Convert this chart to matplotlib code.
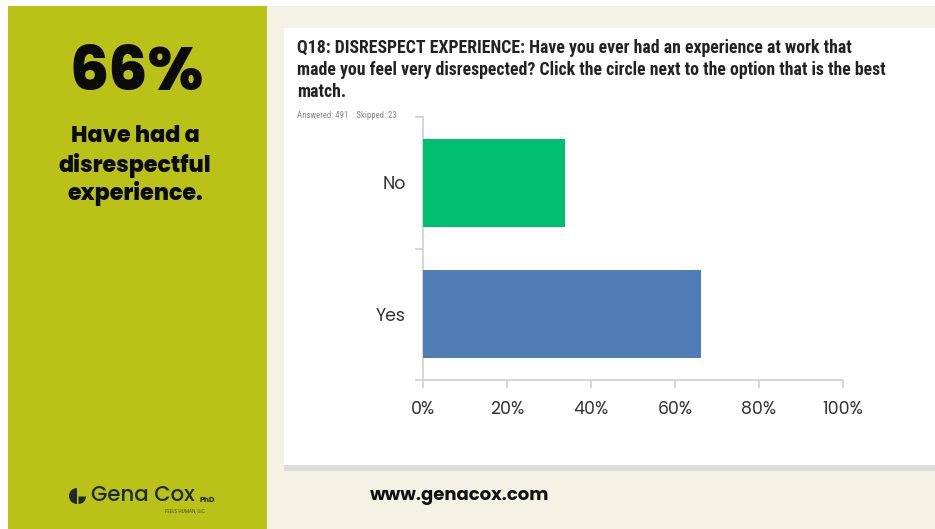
import matplotlib
matplotlib.use("Agg")
import matplotlib.pyplot as plt
from matplotlib.patches import Rectangle, Wedge
from matplotlib import font_manager

W, H = 935, 529
DPI = 100

categories = ["Yes", "No"]
values = [66.2, 33.8]
bar_colors = ["#507CB6", "#00BF6F"]
xticks = [0, 20, 40, 60, 80, 100]
xtick_labels = ["0%", "20%", "40%", "60%", "80%", "100%"]

title_lines = [
    "Q18: DISRESPECT EXPERIENCE: Have you ever had an experience at work that",
    "made you feel very disrespected? Click the circle next to the option that is the best",
    "match.",
]
stat_big = "66%"
stat_lines = ["Have had a", "disrespectful", "experience."]

avail = {f.name for f in font_manager.fontManager.ttflist}
narrow = "Liberation Sans"
for cand in ["Liberation Sans Narrow", "Roboto Condensed", "Arial Narrow"]:
    if cand in avail:
        narrow = cand
        break
round_font = "Poppins" if "Poppins" in avail else ("Lato" if "Lato" in avail else "DejaVu Sans")

fig = plt.figure(figsize=(W / DPI, H / DPI), dpi=DPI)
fig.patch.set_facecolor("white")
renderer = fig.canvas.get_renderer()

def px(x, y):
    return x / W, 1 - y / H

def rect(x0, y0, x1, y1, color, z=0):
    fig.patches.append(Rectangle((x0 / W, 1 - y1 / H), (x1 - x0) / W, (y1 - y0) / H,
                                 transform=fig.transFigure, facecolor=color,
                                 edgecolor="none", zorder=z))

def fit(texts, target_px):
    w = texts[0].get_window_extent(renderer).width
    f = texts[0].get_fontsize() * target_px / w
    for t in texts:
        t.set_fontsize(f)

# backgrounds
rect(268, 6, 935, 529, "#F3F2E5", 0)
rect(8, 6, 267, 529, "#BAC218", 1)
# card shadow + card
rect(284, 464, 935, 471, "#DCDCD8", 1)
rect(284, 28, 935, 465, "white", 2)

# left panel text
fig.text(*px(137, 75), stat_big, ha="center", va="center", fontsize=44.5,
         fontweight="heavy", family=round_font, color="#0a0a0a")
for i, line in enumerate(stat_lines):
    fig.text(*px(135, 136 + 29 * i), line, ha="center", va="center", fontsize=16,
             fontweight="heavy", family=round_font, color="#0a0a0a")

# logo icon (pixel-coordinate overlay)
ov = fig.add_axes([0, 0, 1, 1])
ov.set_xlim(0, W)
ov.set_ylim(0, H)
ov.axis("off")
ov.set_zorder(5)
icon_c = "#1f2a30"
ov.add_patch(Wedge((77, H - 496), 8, 90, 270, facecolor=icon_c, edgecolor="none"))
ov.add_patch(Wedge((78.5, H - 496.5), 7.5, 270, 360, facecolor=icon_c, edgecolor="none"))

logo = fig.text(*px(91, 496), "Gena Cox", ha="left", va="center", fontsize=15,
                family=round_font, fontweight="medium", color=icon_c)
fit([logo], 104)
fig.text(*px(199, 500), "PhD", ha="left", va="center", fontsize=5.5,
         family=round_font, fontweight="bold", color=icon_c)
fig.text(*px(185, 511), "FEELS HUMAN, LLC", ha="center", va="center", fontsize=3.4,
         family=round_font, color="#3a4a30")

# website
fig.text(*px(370, 496), "www.genacox.com", ha="left", va="center", fontsize=13,
         fontweight="bold", family=round_font, color="#111111")

# question title (size fitted so first line spans the reference width)
title_objs = []
for i, line in enumerate(title_lines):
    title_objs.append(fig.text(*px(297, 48 + 22 * i), line, ha="left", va="center",
                               fontsize=11.5, fontweight="bold", family=narrow,
                               color="#222222"))
fit(title_objs, 558)

ans = fig.text(*px(297, 116), "Answered: 491    Skipped: 23", ha="left", va="center",
               fontsize=6, family=narrow, color="#888888")
fit([ans], 100)

# chart axes
x0, x1, yt, yb = 423, 843, 117, 380
ax = fig.add_axes([x0 / W, 1 - yb / H, (x1 - x0) / W, (yb - yt) / H])
ax.set_facecolor("none")
ax.set_zorder(3)
pos = list(range(len(categories)))
ax.barh(pos, values, height=0.67, color=bar_colors, zorder=3)
ax.set_xlim(0, 100)
ax.set_ylim(-0.5, len(categories) - 0.5)
ax.set_xticks(xticks)
ax.set_xticklabels(xtick_labels)
ax.set_yticks([p - 0.5 for p in pos] + [len(categories) - 0.5])
ax.set_yticklabels([])
ax.set_yticks(pos, minor=True)
ax.set_yticklabels(categories, minor=True)
for s in ["top", "right"]:
    ax.spines[s].set_visible(False)
for s in ["left", "bottom"]:
    ax.spines[s].set_color("#d0d0d0")
    ax.spines[s].set_linewidth(1.2)
ax.tick_params(axis="x", length=6, width=1.2, color="#d0d0d0", pad=9,
               labelsize=12.5, labelcolor="#333333")
ax.tick_params(axis="y", which="major", length=6, width=1.2, color="#d0d0d0")
ax.tick_params(axis="y", which="minor", length=0, pad=12.5, labelsize=12.5,
               labelcolor="#333333")
for lab in ax.get_xticklabels() + ax.get_yticklabels(minor=True):
    lab.set_family(round_font)

fig.savefig("out.png", dpi=DPI)
